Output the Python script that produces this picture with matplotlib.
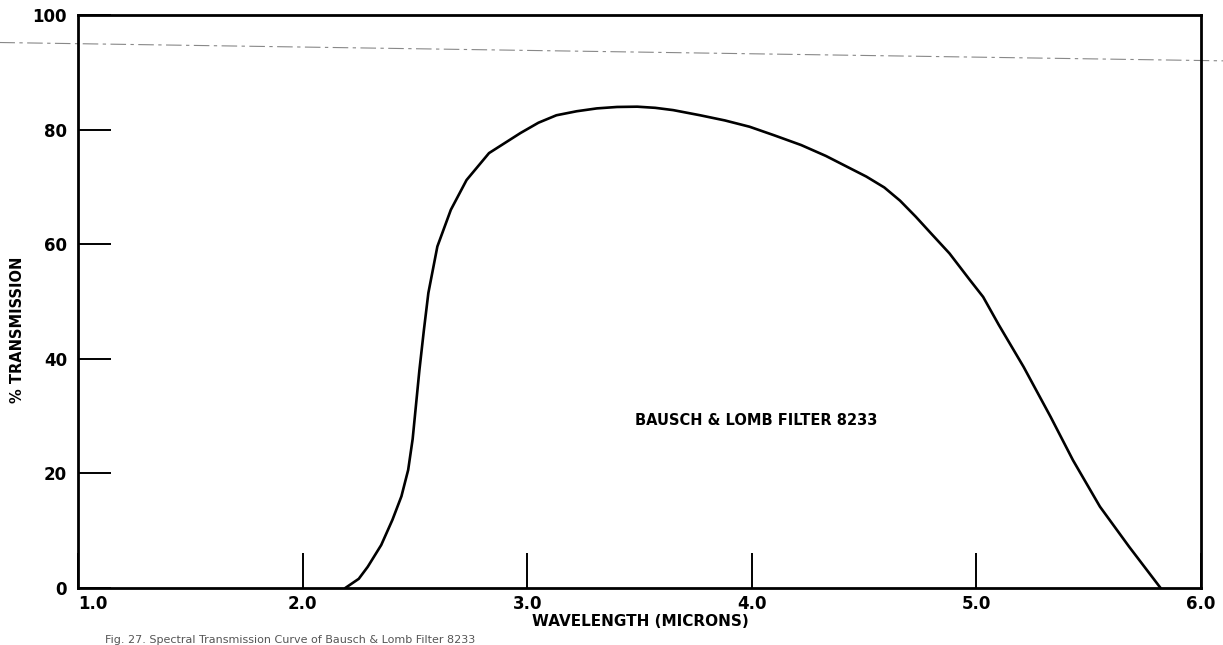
import matplotlib
matplotlib.use("Agg")
import matplotlib.pyplot as plt

# Data
wavelength = [2.19, 2.25, 2.29, 2.35, 2.40, 2.44, 2.47, 2.49, 2.50, 2.52, 2.54, 2.56,
              2.60, 2.66, 2.73, 2.83, 2.97, 3.05, 3.13, 3.22, 3.31, 3.40, 3.49, 3.57,
              3.65, 3.77, 3.88, 3.99, 4.10, 4.22, 4.33, 4.44, 4.51, 4.59, 4.66, 4.73,
              4.80, 4.88, 4.97, 5.03, 5.10, 5.21, 5.33, 5.43, 5.55, 5.68, 5.82]
transmission = [0, 1.6, 3.7, 7.5, 11.9, 16.0, 20.6, 26.0, 30.0, 38.0, 45.0, 51.5,
                59.6, 66.0, 71.2, 75.9, 79.4, 81.2, 82.5, 83.2, 83.7, 83.95, 84.0, 83.8,
                83.4, 82.5, 81.6, 80.5, 79.0, 77.3, 75.4, 73.2, 71.8, 69.9, 67.6, 64.8,
                61.8, 58.4, 53.8, 50.8, 45.9, 38.6, 29.9, 22.3, 14.2, 7.2, 0]
x_ticks = [1.0, 2.0, 3.0, 4.0, 5.0, 6.0]
x_ticklabels = ["1.0", "2.0", "3.0", "4.0", "5.0", "6.0"]
y_ticks = [0, 20, 40, 60, 80, 100]
y_ticklabels = ["0", "20", "40", "60", "80", "100"]
ref_line_x = [0.65, 6.10]
ref_line_y = [95.2, 92.0]

W, H = 1223, 645
fig = plt.figure(figsize=(W / 100, H / 100), dpi=100)
ax = fig.add_axes([78 / W, 1 - 588 / H, (1201 - 78) / W, (588 - 15) / H])

ax.plot(wavelength, transmission, color="black", lw=1.9,
        solid_capstyle="round", solid_joinstyle="round")

# faint dash-dot reference line extending beyond the frame
ax.plot(ref_line_x, ref_line_y, color="#888888", lw=0.8,
        linestyle=(0, (14, 4, 3, 4)), clip_on=False)

ax.set_xlim(1.0, 6.0)
ax.set_ylim(0, 100)

for s in ax.spines.values():
    s.set_linewidth(2.0)
    s.set_color("black")

ax.set_xticks(x_ticks)
ax.set_xticklabels(x_ticklabels)
ax.set_yticks(y_ticks)
ax.set_yticklabels(y_ticklabels)
ax.tick_params(axis="x", direction="in", length=25, width=1.4, pad=5,
               labelsize=12)
ax.tick_params(axis="y", direction="in", length=24, width=1.4, pad=8,
               labelsize=12)
for lab in ax.get_xticklabels() + ax.get_yticklabels():
    lab.set_fontweight("bold")
    lab.set_family("DejaVu Sans")
ax.get_xticklabels()[0].set_horizontalalignment("left")

fig.text(640 / W, 1 - 622 / H, "WAVELENGTH (MICRONS)", ha="center", va="center",
         fontsize=11, fontweight="bold", family="DejaVu Sans")
fig.text(18 / W, 1 - 330 / H, "% TRANSMISSION", ha="center", va="center",
         rotation=90, fontsize=10.5, fontweight="bold", family="DejaVu Sans")

ax.text(3.48, 29.3, "BAUSCH & LOMB FILTER 8233", ha="left", va="center",
        fontsize=10.5, fontweight="bold", family="DejaVu Sans")

fig.text(105 / W, 1 - 640 / H,
         "Fig. 27. Spectral Transmission Curve of Bausch & Lomb Filter 8233",
         ha="left", va="center", fontsize=8, color="#555555",
         family="DejaVu Sans")

fig.savefig("out.png", dpi=100, facecolor="white")
